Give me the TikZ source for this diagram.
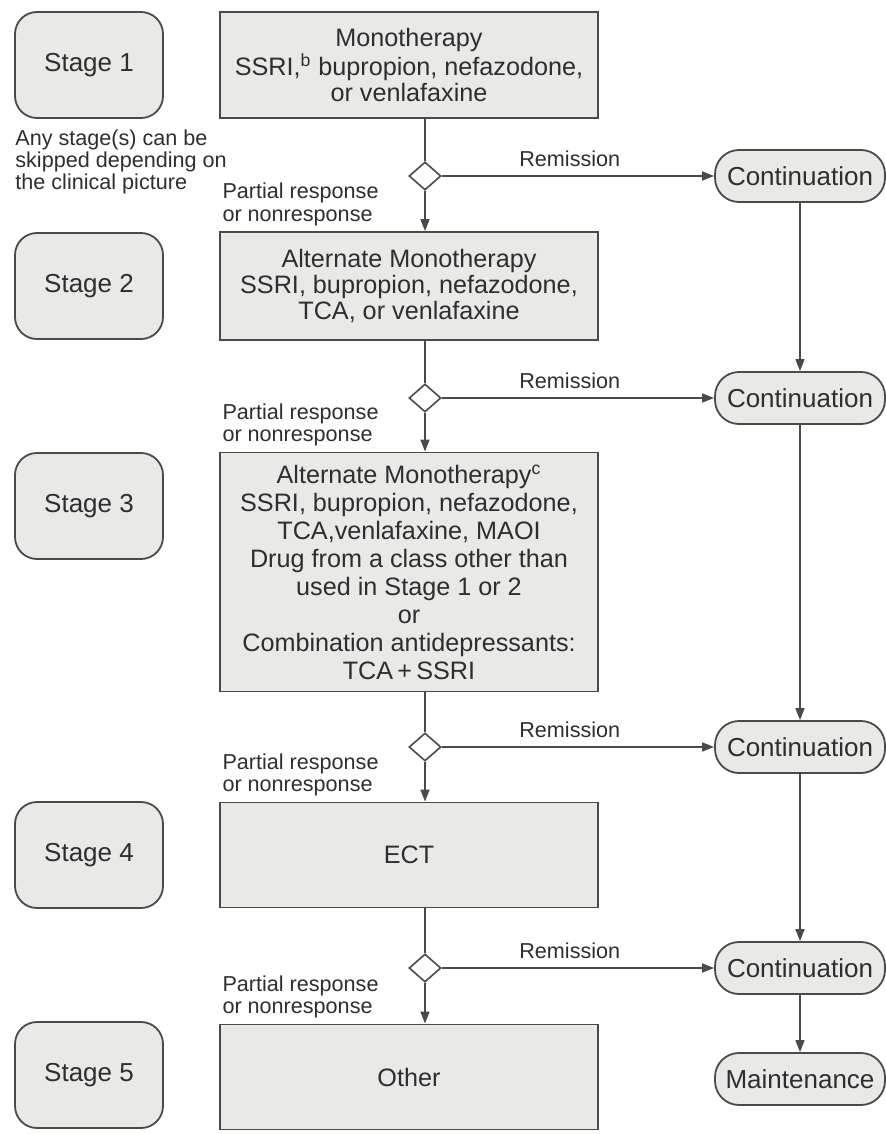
\documentclass[tikz,border=0pt]{standalone}
\usepackage{fontspec}
\setmainfont{Liberation Sans}
\usetikzlibrary{shapes.geometric,arrows.meta,positioning}

\definecolor{boxfill}{HTML}{E9E9E7}
\definecolor{linegray}{HTML}{4A4A4A}
\definecolor{textgray}{HTML}{2E2E2E}

\tikzset{
    stagebox/.style={draw=linegray, line width=0.9pt, fill=boxfill, rounded corners=11pt,
        minimum width=74pt, minimum height=53pt, text=textgray, font=\fontsize{13}{13}\selectfont},
    treatbox/.style={draw=linegray, line width=0.9pt, fill=boxfill, minimum width=189pt,
        align=center, text=textgray, font=\fontsize{12.6}{13}\selectfont},
    decision/.style={diamond, draw=linegray, line width=0.8pt, fill=white, inner sep=0pt,
        minimum width=16pt, minimum height=14pt},
    contbox/.style={draw=linegray, line width=0.9pt, fill=boxfill, rounded corners=12pt,
        minimum width=85pt, minimum height=26pt, inner sep=1pt, text=textgray,
        font=\fontsize{13}{13}\selectfont},
    small/.style={text=textgray, font=\fontsize{10.8}{11.2}\selectfont, inner sep=1pt},
    line/.style={draw=linegray, line width=0.8pt},
    arr/.style={line, -{Triangle[length=6pt,width=4.5pt]}}
}

\begin{document}
\begin{tikzpicture}[x=0.5pt, y=-0.5pt]
    \useasboundingbox (0,0) rectangle (885,1134);

    % Stage labels on the left
    \foreach \i/\y in {1/65, 2/286, 3/506, 4/855, 5/1075} {
        \node[stagebox] (stage\i) at (89,\y) {Stage \i};
    }
    \node[small, anchor=north west, align=left] (note) at (13,127)
        {Any stage(s) can be\\skipped depending on\\the clinical picture};

    % Treatment boxes
    \node[treatbox, minimum height=53pt] (box1) at (409,65)
        {Monotherapy\\SSRI,\textsuperscript{b} bupropion, nefazodone,\\or venlafaxine};
    \node[treatbox, minimum height=54pt] (box2) at (409,286)
        {Alternate Monotherapy\\SSRI, bupropion, nefazodone,\\TCA, or venlafaxine};
    \node[treatbox, minimum height=119.5pt, font=\fontsize{12.6}{14}\selectfont] (box3) at (409,572)
        {Alternate Monotherapy\textsuperscript{c}\\SSRI, bupropion, nefazodone,\\TCA,venlafaxine, MAOI\\
         Drug from a class other than\\used in Stage 1 or 2\\or\\Combination antidepressants:\\TCA\,+\,SSRI};
    \node[treatbox, minimum height=52.5pt] (box4) at (409,855) {ECT};
    \node[treatbox, minimum height=52.5pt] (box5) at (409,1077) {Other};

    % Decisions and continuation phase
    \foreach \i/\y in {1/176, 2/398, 3/747, 4/968} {
        \node[decision] (dia\i) at (425,\y) {};
        \node[contbox] (cont\i) at (800,\y) {Continuation};
        \draw[arr] (dia\i) -- node[small, above=3pt, pos=0.47] {Remission} (cont\i);
    }
    \node[contbox] (maint) at (800,1079) {Maintenance};

    % Vertical flow
    \foreach \i [count=\j from 2] in {1,...,4} {
        \draw[line] (dia\i |- box\i.south) -- (dia\i);
        \draw[arr] (dia\i) -- (dia\i |- box\j.north);
        \node[small, anchor=south west, align=left] (resp\i) at ([shift={(1,-3)}]box\j.north west)
            {Partial response\\or nonresponse};
    }
    \draw[arr] (cont1) -- (cont2);
    \draw[arr] (cont2) -- (cont3);
    \draw[arr] (cont3) -- (cont4);
    \draw[arr] (cont4) -- (maint);
\end{tikzpicture}
\end{document}
